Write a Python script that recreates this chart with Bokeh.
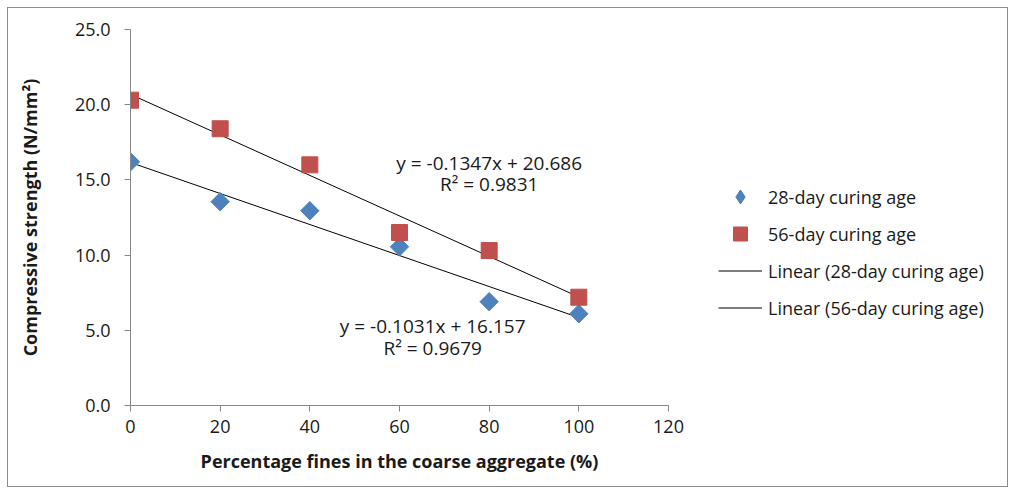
import numpy as np
from bokeh.plotting import figure
from bokeh.models import (Range1d, Legend, LegendItem, Label, InlineStyleSheet,
                          ColumnDataSource, FixedTicker, NumeralTickFormatter)
from bokeh.embed import file_html
from bokeh.resources import INLINE

# ---- data ----
fines_pct = [0, 20, 40, 60, 80, 100]
strength_28 = [16.2, 13.55, 12.95, 10.55, 6.9, 6.1]
strength_56 = [20.3, 18.4, 16.0, 11.5, 10.3, 7.2]
fit_28 = [-0.1031, 16.157]   # slope, intercept
fit_56 = [-0.1347, 20.686]
r2_28 = 0.9679
r2_56 = 0.9831
x_ticks = [0, 20, 40, 60, 80, 100, 120]
y_ticks = [0, 5, 10, 15, 20, 25]

FONT = "Open Sans"
TXT = "#1a1a1a"
AX = "#868686"

css = InlineStyleSheet(css="""
:host::after { content: ""; position: absolute; left: 7px; top: 7px; width: 999px; height: 478px;
  border: 1px solid #8c8c8c; pointer-events: none; z-index: 1000; }
""")

p = figure(frame_width=538, frame_height=376, output_backend="svg", toolbar_location=None,
           x_range=Range1d(0, 120), y_range=Range1d(0, 25),
           min_border_left=130, min_border_right=0, min_border_top=29,
           min_border_bottom=88, stylesheets=[css])
p.outline_line_color = None
p.xgrid.visible = False
p.ygrid.visible = False

for ax in (p.xaxis[0], p.yaxis[0]):
    ax.axis_line_color = AX
    ax.major_tick_line_color = AX
    ax.minor_tick_line_color = None
    ax.major_tick_out = 6
    ax.major_tick_in = 0
    ax.major_label_text_font = FONT
    ax.major_label_text_font_size = "18px"
    ax.major_label_text_color = TXT
    ax.axis_label_text_font = FONT
    ax.axis_label_text_font_size = "18px"
    ax.axis_label_text_font_style = "bold"
    ax.axis_label_text_color = TXT

p.xaxis.ticker = FixedTicker(ticks=x_ticks)
p.yaxis.ticker = FixedTicker(ticks=y_ticks)
p.yaxis.formatter = NumeralTickFormatter(format="0.0")
p.xaxis.axis_label = "Percentage fines in the coarse aggregate (%)"
p.yaxis.axis_label = "Compressive strength (N/mm²)"
p.xaxis.major_label_standoff = 8
p.xaxis.axis_label_standoff = 13
p.yaxis.major_label_standoff = 14
p.yaxis.axis_label_standoff = 30

# trend lines
tx = np.array([fines_pct[0], fines_pct[-1]], dtype=float)
l28 = p.line(tx, fit_28[0] * tx + fit_28[1], line_color="black", line_width=1)
l56 = p.line(tx, fit_56[0] * tx + fit_56[1], line_color="black", line_width=1)

src = ColumnDataSource(dict(x=fines_pct, y28=strength_28, y56=strength_56))
# small diamond (used for the legend symbol), covered by the rotated square
k28 = p.scatter("x", "y28", source=src, marker="diamond", size=11,
                fill_color="#4F81BD", line_color="#4F81BD")
s28 = p.scatter("x", "y28", source=src, marker="square", angle=np.pi / 4, size=13,
                fill_color="#4F81BD", line_color="#4F81BD")
s56 = p.scatter("x", "y56", source=src, marker="square", size=16,
                fill_color="#C0504D", line_color="#C0504D")

# equations
def eq(fit):
    return f"y = {fit[0]:.4f}x + {fit[1]:.3f}"

labels = [
    (eq(fit_56), 80.0, 16.15),
    (f"R² = {r2_56:.4f}", 80.0, 14.75),
    (eq(fit_28), 67.4, 5.3),
    (f"R² = {r2_28:.4f}", 67.4, 3.8),
]
for t, x, y in labels:
    p.add_layout(Label(x=x, y=y, text=t, text_font=FONT, text_font_size="19px",
                       text_color=TXT, text_align="center", text_baseline="middle"))

legend = Legend(items=[
    LegendItem(label="28-day curing age", renderers=[k28]),
    LegendItem(label="56-day curing age", renderers=[s56]),
    LegendItem(label="Linear (28-day curing age)", renderers=[l28]),
    LegendItem(label="Linear (56-day curing age)", renderers=[l56]),
], location=(50, 80))
legend.label_text_font = FONT
legend.label_text_font_size = "18px"
legend.label_text_color = TXT
legend.background_fill_alpha = 0
legend.border_line_color = None
legend.glyph_width = 44
legend.glyph_height = 35
legend.label_height = 20
legend.spacing = 2
legend.padding = 0
legend.margin = 0
legend.label_standoff = 6
p.add_layout(legend, "right")

open("out.html", "w").write(file_html(p, INLINE))
